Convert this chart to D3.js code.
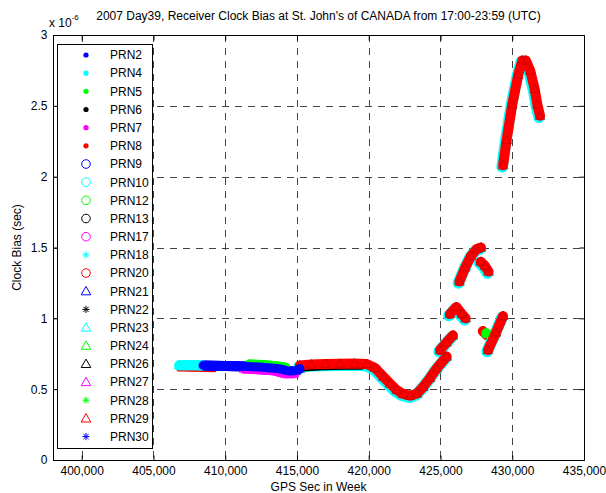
<!DOCTYPE html>
<html>
<head>
<meta charset="utf-8">
<script src="https://cdn.jsdelivr.net/npm/d3@7"></script>
<style>
  body { margin: 0; background: #fff; }
  text { font-family: "Liberation Sans", Arial, sans-serif; }
</style>
</head>
<body>
<div id="plot"></div>
<script>
// tick labels
var xTicks = [400000, 405000, 410000, 415000, 420000, 425000, 430000, 435000];
var yTicks = [0, 0.5, 1, 1.5, 2, 2.5, 3];

// legend entries (matlab colour letters / marker letters)
var prnNames = ["PRN2", "PRN4", "PRN5", "PRN6", "PRN7", "PRN8", "PRN9", "PRN10", "PRN12", "PRN13", "PRN17",
                "PRN18", "PRN20", "PRN21", "PRN22", "PRN23", "PRN24", "PRN26", "PRN27", "PRN28", "PRN29", "PRN30"];
var prnColors = ["b", "c", "g", "k", "m", "r", "b", "c", "g", "k", "m",
                 "c", "r", "b", "k", "c", "g", "k", "m", "g", "r", "b"];
var prnMarkers = [".", ".", ".", ".", ".", ".", "o", "o", "o", "o", "o",
                  "*", "o", "^", "*", "^", "^", "^", "^", "*", "^", "*"];

// clock bias readings, [GPS sec, bias in 1e-6 s]
var cyanStart = [[406800, 0.668], [407400, 0.669], [408000, 0.668], [408450, 0.667]];
var redStart = [[406800, 0.645], [407600, 0.644], [408400, 0.642], [409200, 0.640]];
var blueRun = [[408450, 0.667], [409200, 0.665], [410000, 0.663], [410800, 0.661], [411600, 0.660],
               [412400, 0.656], [413200, 0.650], [413900, 0.642], [414400, 0.628], [414900, 0.630], [415200, 0.645]];
var greenEdge = [[411700, 0.674], [412600, 0.670], [413500, 0.662], [414200, 0.652]];
var magentaEdge = [[411300, 0.646], [412300, 0.641], [413300, 0.634], [414200, 0.612], [414800, 0.612]];
var blackEdge = [[415400, 0.660], [416500, 0.667], [417500, 0.670], [418500, 0.672], [419500, 0.672]];
var redRun = [[415200, 0.668], [416000, 0.675], [417000, 0.678], [418000, 0.680], [419000, 0.681], [419860, 0.678],
              [420440, 0.650], [421020, 0.588], [421480, 0.540], [421950, 0.494], [422390, 0.466], [422880, 0.454],
              [423360, 0.469], [423800, 0.517], [424270, 0.579], [424740, 0.647], [425430, 0.730]];
var blade = [[424970, 0.776], [425420, 0.830], [425870, 0.880]];
var triPair = [[425650, 1.03], [426100, 1.08], [426500, 1.03], [426750, 1.00]];
var upperArc = [[426320, 1.26], [426730, 1.36], [427120, 1.44], [427530, 1.49], [427820, 1.50]];
var arrowBit = [[427800, 1.40], [428100, 1.37], [428350, 1.33]];
var lowerRight = [[428310, 0.776], [428870, 0.900], [429360, 1.016]];
var redBit = [[427950, 0.91], [428250, 0.88]];
var greenBit = [[428200, 0.894]];
var bigArc = [[429360, 2.08], [429610, 2.26], [430000, 2.51], [430420, 2.72], [430700, 2.82], [430950, 2.82],
              [431250, 2.75], [431560, 2.62], [431750, 2.51], [431935, 2.43]];

var redTracks = [redRun, blade, triPair, upperArc, arrowBit, lowerRight, bigArc];

// which readings each PRN draws
var prnTracks = [
    [blueRun], [cyanStart], [greenEdge], [blackEdge], [magentaEdge], [redStart],
    [blueRun], [cyanStart], [greenEdge], [blackEdge], [magentaEdge],
    [cyanStart], [redBit], [blueRun], [blackEdge], [cyanStart].concat(redTracks), [greenEdge, greenBit],
    [blackEdge], [magentaEdge], [greenEdge], redTracks, [blueRun]
];

var colorMap = { b: "#0000ff", c: "#00ffff", g: "#00ff00", k: "#000000", m: "#ff00ff", r: "#ff0000" };
var bandWidth = { ".": 6, "o": 10, "*": 9, "^": 10 };

var W = 606, H = 493;
var padL = 53, padR = 584, padT = 35, padB = 460;

var svg = d3.select("#plot").append("svg")
    .attr("width", W)
    .attr("height", H);

var x = d3.scaleLinear().domain([398000, 435000]).range([padL, padR]);
var y = d3.scaleLinear().domain([0, 3]).range([padB, padT]);

// grid
var grid = svg.append("g").attr("stroke", "#444").attr("stroke-width", 1).attr("stroke-dasharray", "7,6");
grid.selectAll(".gx").data(xTicks.filter(function (d) { return d < 435000; }))
    .enter().append("line")
    .attr("x1", function (d) { return Math.round(x(d)) + 0.5; })
    .attr("x2", function (d) { return Math.round(x(d)) + 0.5; })
    .attr("y1", padT).attr("y2", padB);
grid.selectAll(".gy").data(yTicks.filter(function (d) { return d > 0 && d < 3; }))
    .enter().append("line")
    .attr("y1", function (d) { return Math.round(y(d)) + 0.5; })
    .attr("y2", function (d) { return Math.round(y(d)) + 0.5; })
    .attr("x1", padL).attr("x2", padR);

// markers
function drawMarker(g, sym, cx, cy, col, edge) {
    if (sym == ".") {
        g.append("circle").attr("cx", cx).attr("cy", cy).attr("r", 2.6).attr("fill", col);
    } else if (sym == "o") {
        g.append("circle").attr("cx", cx).attr("cy", cy).attr("r", 4.3)
            .attr("fill", "none").attr("stroke", col).attr("stroke-width", 1);
    } else if (sym == "^") {
        g.append("path")
            .attr("d", "M" + cx + "," + (cy - 4.8) + "L" + (cx + 4.8) + "," + (cy + 3.6) + "L" + (cx - 4.8) + "," + (cy + 3.6) + "Z")
            .attr("fill", "none").attr("stroke", edge || col).attr("stroke-width", edge ? 0.7 : 1);
    } else {
        var s = 3.6, t = 2.6;
        g.append("path")
            .attr("d", "M" + (cx - s) + "," + cy + "H" + (cx + s) + "M" + cx + "," + (cy - s) + "V" + (cy + s) +
                "M" + (cx - t) + "," + (cy - t) + "L" + (cx + t) + "," + (cy + t) +
                "M" + (cx - t) + "," + (cy + t) + "L" + (cx + t) + "," + (cy - t))
            .attr("stroke", col).attr("stroke-width", 1);
    }
}

var line = d3.line()
    .x(function (d) { return x(d[0]); })
    .y(function (d) { return y(d[1]); });

var dataG = svg.append("g");
prnNames.forEach(function (name, i) {
    var col = colorMap[prnColors[i]];
    var sym = prnMarkers[i];
    var g = dataG.append("g");
    prnTracks[i].forEach(function (track) {
        var halo = (name == "PRN23" && track != cyanStart);
        g.append("path")
            .datum(track)
            .attr("d", line)
            .attr("fill", "none")
            .attr("stroke", col)
            .attr("stroke-width", halo ? bandWidth[sym] + 1.5 : bandWidth[sym])
            .attr("stroke-linecap", "round")
            .attr("stroke-linejoin", "round")
            .attr("transform", halo ? "translate(-1,1.5)" : null);
        track.forEach(function (d) {
            drawMarker(g, sym, x(d[0]), y(d[1]), col, name == "PRN29" ? "#c00000" : null);
        });
    });
});

// axes box
svg.append("rect")
    .attr("x", padL + 0.5).attr("y", padT + 0.5)
    .attr("width", padR - padL).attr("height", padB - padT)
    .attr("fill", "none").attr("stroke", "#000").attr("stroke-width", 1);

var xAxis = d3.axisBottom(x).tickValues(xTicks).tickFormat(d3.format(",")).tickSizeInner(-5).tickSizeOuter(0).tickPadding(6);
var yAxis = d3.axisLeft(y).tickValues(yTicks).tickFormat(function (d) { return String(d); }).tickSizeInner(-5).tickSizeOuter(0).tickPadding(6);

svg.append("g").attr("transform", "translate(0," + (padB + 0.5) + ")").call(xAxis);
svg.append("g").attr("transform", "translate(" + (padL + 0.5) + ",0)").call(yAxis);
svg.append("g").attr("transform", "translate(0," + (padT + 0.5) + ")")
    .call(d3.axisTop(x).tickValues(xTicks).tickFormat("").tickSizeInner(-5).tickSizeOuter(0));
svg.append("g").attr("transform", "translate(" + (padR + 0.5) + ",0)")
    .call(d3.axisRight(y).tickValues(yTicks).tickFormat("").tickSizeInner(-5).tickSizeOuter(0));
svg.selectAll(".domain").remove();
svg.selectAll(".tick text").attr("font-size", 12).attr("fill", "#000")
    .attr("font-family", "'Liberation Sans', Arial, sans-serif");

// labels
svg.append("text")
    .attr("x", (padL + padR) / 2).attr("y", 20)
    .attr("text-anchor", "middle").attr("font-size", 12)
    .text("2007 Day39, Receiver Clock Bias at St. John's of CANADA from 17:00-23:59 (UTC)");
svg.append("text")
    .attr("x", (padL + padR) / 2).attr("y", 491)
    .attr("text-anchor", "middle").attr("font-size", 12)
    .text("GPS Sec in Week");
svg.append("text")
    .attr("transform", "translate(21," + (padT + padB) / 2 + ") rotate(-90)")
    .attr("text-anchor", "middle").attr("font-size", 12)
    .text("Clock Bias (sec)");
var ex = svg.append("text").attr("x", 49).attr("y", 27).attr("font-size", 12);
ex.append("tspan").text("x 10");
ex.append("tspan").attr("dy", -7).attr("font-size", 8).text("-6");

// legend
var lg = svg.append("g");
lg.append("rect")
    .attr("x", 57.5).attr("y", 44.5).attr("width", 95).attr("height", 404)
    .attr("fill", "#fff").attr("stroke", "#000").attr("stroke-width", 1);
prnNames.forEach(function (name, i) {
    var yy = 55 + i * 18.17;
    drawMarker(lg, prnMarkers[i], 86, yy, colorMap[prnColors[i]]);
    lg.append("text").attr("x", 110).attr("y", yy).attr("dy", "0.36em")
        .attr("font-size", 12).text(name);
});
</script>
</body>
</html>
